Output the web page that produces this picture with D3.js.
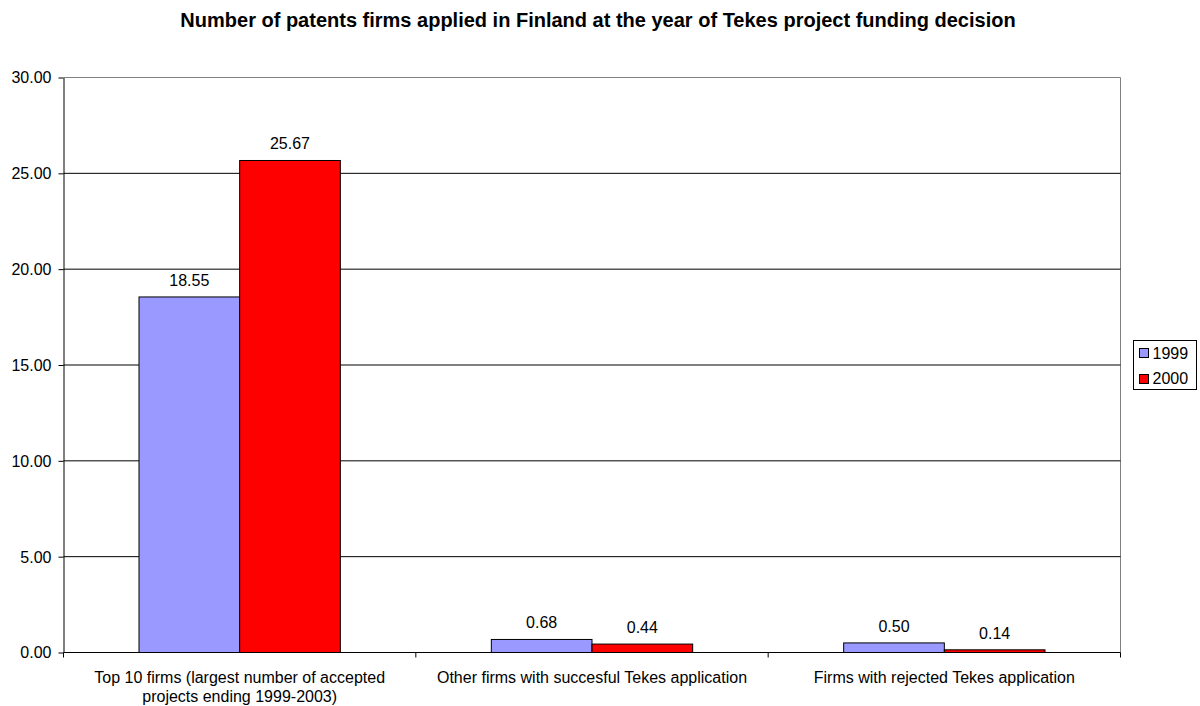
<!DOCTYPE html>
<html><head><meta charset="utf-8">
<script src="https://cdn.jsdelivr.net/npm/d3@7"></script>
<style>html,body{margin:0;padding:0;background:#fff;}svg{display:block;font-family:"Liberation Sans",Arial,sans-serif;}</style>
</head><body>
<svg id="c" width="1200" height="706"></svg>
<script>
const title = "Number of patents firms applied in Finland at the year of Tekes project funding decision";
const categories = [
  "Top 10 firms (largest number of accepted projects ending 1999-2003)",
  "Other firms with succesful Tekes application",
  "Firms with rejected Tekes application"
];
const categoryLines = [
  ["Top 10 firms (largest number of accepted", "projects ending 1999-2003)"],
  ["Other firms with succesful Tekes application"],
  ["Firms with rejected Tekes application"]
];
const seriesNames = ["1999", "2000"];
const values1999 = [18.55, 0.68, 0.50];
const values2000 = [25.67, 0.44, 0.14];
const yTicks = [0, 5, 10, 15, 20, 25, 30];
const colors = ["#9999FF", "#FF0000"];

const svg = d3.select("#c");
const L = 63.5, R = 1120.5, T = 77.5, B = 652.5;

const x0 = d3.scaleBand().domain(categories).range([L, R]).padding(0);
const x1 = d3.scaleBand().domain(seriesNames).range([0, x0.bandwidth()]).paddingInner(0).paddingOuter(0.75);
const y = d3.scaleLinear().domain([0, 30]).range([B, T]);

// title
svg.append("text").attr("x", 598).attr("y", 26.5).attr("text-anchor", "middle")
  .attr("font-weight", "bold").attr("font-size", "20px").text(title);

// plot border (top/right gray)
svg.append("path").attr("d", `M${L},${T}H${R}V${B}`).attr("fill", "none").attr("stroke", "#808080").attr("stroke-width", 1);

// gridlines
svg.append("g").selectAll("line").data(yTicks.filter(d => d > 0 && d < 30)).join("line")
  .attr("x1", L).attr("x2", R).attr("y1", d => y(d)).attr("y2", d => y(d))
  .attr("stroke", "#000").attr("stroke-width", 1);

// y axis
const yAxis = d3.axisLeft(y).tickValues(yTicks).tickSize(5).tickSizeOuter(0).tickFormat(d3.format(".2f"));
const gy = svg.append("g").attr("transform", `translate(${L},0)`).call(yAxis);
gy.select(".domain").attr("stroke", "#000");
gy.selectAll(".tick line").attr("stroke", "#000");
gy.selectAll(".tick text").attr("font-size", "16px").attr("fill", "#000")
  .attr("font-family", "Liberation Sans, Arial, sans-serif").attr("x", -12).attr("dy", "0.34em");

// bars
const series = [values1999, values2000];
const data = [];
categories.forEach((c, i) => seriesNames.forEach((s, j) => data.push({c, s, v: series[j][i], j})));
const gb = svg.append("g");
gb.selectAll("rect").data(data).join("rect")
  .attr("x", d => x0(d.c) + x1(d.s))
  .attr("width", x1.bandwidth())
  .attr("y", d => y(d.v))
  .attr("height", d => B - y(d.v))
  .attr("fill", d => colors[d.j]).attr("stroke", "#000").attr("stroke-width", 1);

gb.selectAll("text").data(data).join("text")
  .attr("x", d => x0(d.c) + x1(d.s) + x1.bandwidth() / 2)
  .attr("y", d => y(d.v) - 11)
  .attr("text-anchor", "middle").attr("font-size", "16px").attr("fill", "#000")
  .text(d => d.v.toFixed(2));

// x axis
svg.append("line").attr("x1", L).attr("x2", R).attr("y1", B).attr("y2", B).attr("stroke", "#000");
const tickXs = categories.map(c => x0(c)).concat([R]);
svg.append("g").selectAll("line").data(tickXs).join("line")
  .attr("x1", d => d).attr("x2", d => d).attr("y1", B).attr("y2", B + 5).attr("stroke", "#000");

const gl = svg.append("g");
categories.forEach((c, i) => {
  const t = gl.append("text").attr("text-anchor", "middle").attr("font-size", "16px").attr("fill", "#000");
  categoryLines[i].forEach((ln, k) => {
    t.append("tspan").attr("x", x0(c) + x0.bandwidth() / 2).attr("y", 682.5 + k * 19).text(ln);
  });
});

// legend
const lg = svg.append("g");
lg.append("rect").attr("x", 1133.5).attr("y", 340.5).attr("width", 63).attr("height", 49)
  .attr("fill", "#fff").attr("stroke", "#000");
seriesNames.forEach((s, j) => {
  const cy = 353.3 + j * 25.4;
  lg.append("rect").attr("x", 1139.5).attr("y", Math.round(cy - 5) + 0.5).attr("width", 9).attr("height", 9)
    .attr("fill", colors[j]).attr("stroke", "#000");
  lg.append("text").attr("x", 1152.5).attr("y", cy).attr("dy", "0.36em").attr("font-size", "16px").text(s);
});
</script>
</body></html>
